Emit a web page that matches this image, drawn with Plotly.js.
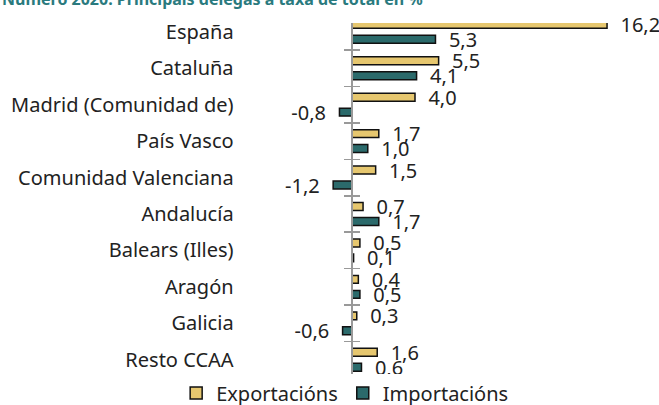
<!DOCTYPE html>
<html><head><meta charset="utf-8">
<script src="https://cdn.plot.ly/plotly-3.0.1.min.js"></script>
<style>html,body{margin:0;padding:0;background:#fff;}</style>
</head><body>
<div id="chart" style="width:659px;height:405px;"></div>
<script>
var categories = ["España","Cataluña","Madrid (Comunidad de)","País Vasco","Comunidad Valenciana","Andalucía","Balears (Illes)","Aragón","Galicia","Resto CCAA"];
var exportacions = [16.2,5.5,4.0,1.7,1.5,0.7,0.5,0.4,0.3,1.6];
var importacions = [5.3,4.1,-0.8,1.0,-1.2,1.7,0.1,0.5,-0.6,0.6];
var seriesNames = ["Exportacións","Importacións"];
var titleText = "Número 2020: Principais delegas a taxa de total en %";

var FONT = "Noto Sans, sans-serif";
var W = 659, H = 405, ML = 245, MR = 20, MT = 23, MB = 26.5;
var xr = [-6.8, 18.23];
var yr = [9.5, -0.24];
var axisPos = (0 - xr[0]) / (xr[1] - xr[0]);
var NB = '\u00a0\u00a0';

function barTrace(vals, name, color) {
  return {
    type: 'bar', orientation: 'h', y: categories, x: vals, name: name,
    marker: {color: color, line: {color: '#111', width: 1.5}},
    texttemplate: vals.map(function(v){ return v < 0 ? '%{x:.1f}' + NB : NB + '%{x:.1f}'; }),
    textposition: 'outside', cliponaxis: false, constraintext: 'none',
    textfont: {family: FONT, size: 20, color: '#222'},
    hoverinfo: 'skip'
  };
}
function dummy(ax) {
  return {type: 'scatter', mode: 'markers', y: categories, x: categories.map(function(){return 0;}),
    yaxis: ax, marker: {opacity: 0}, showlegend: false, hoverinfo: 'skip'};
}
var data = [
  barTrace(exportacions, seriesNames[0], '#e6c76f'),
  barTrace(importacions, seriesNames[1], '#2b6a6b'),
  dummy('y2'), dummy('y3')
];
var tickAxis = function(side) {
  return {overlaying: 'y', anchor: 'free', position: axisPos, side: side, type: 'category',
    categoryorder: 'array', categoryarray: categories, range: yr,
    showline: side === 'left', linecolor: '#999', linewidth: 2,
    ticks: 'outside', tickson: 'boundaries', ticklen: 7, tickwidth: 1.5, tickcolor: '#999',
    showticklabels: false, showgrid: false, zeroline: false, fixedrange: true};
};
var plotW = W - ML - MR, plotH = H - MT - MB;
var layout = {
  width: W, height: H,
  margin: {l: ML, r: MR, t: MT, b: MB, autoexpand: false},
  paper_bgcolor: '#fff', plot_bgcolor: '#fff',
  separators: ',.',
  font: {family: FONT, size: 20, color: '#222'},
  annotations: [{
    text: '<b>' + titleText + '</b>', showarrow: false,
    xref: 'paper', yref: 'paper', x: -ML / plotW, xanchor: 'left',
    y: 1 + (MT + 1) / plotH, yanchor: 'middle',
    font: {family: FONT, size: 16, color: '#2a7a7e'}
  }],
  barmode: 'group', bargap: 0.18, bargroupgap: 0.47,
  xaxis: {range: xr, visible: false, showgrid: false, zeroline: false, fixedrange: true},
  yaxis: {type: 'category', categoryorder: 'array', categoryarray: categories, range: yr,
    showline: false, ticks: '', showgrid: false, zeroline: false, ticksuffix: '  ',
    tickfont: {family: FONT, size: 20, color: '#222'}, fixedrange: true},
  yaxis2: tickAxis('left'),
  yaxis3: tickAxis('right'),
  showlegend: true,
  legend: {orientation: 'h', x: 0.523, xanchor: 'center', xref: 'container', yref: 'container', y: 12/405, yanchor: 'middle',
    font: {family: FONT, size: 20, color: '#222'}, itemwidth: 30, traceorder: 'normal', tracegroupgap: 0}
};
Plotly.newPlot('chart', data, layout, {displayModeBar: false, staticPlot: true});
</script>
</body></html>
